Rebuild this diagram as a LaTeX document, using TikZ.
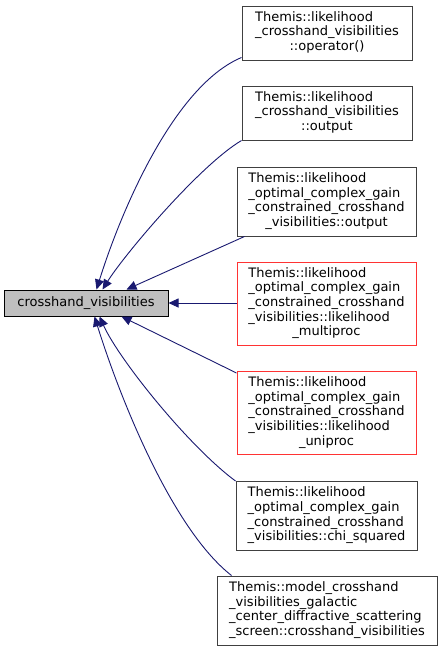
\documentclass[tikz,border=0pt]{standalone}
\usepackage{fontspec}
\setmainfont{DejaVu Sans}
\usetikzlibrary{arrows.meta,calc}
\definecolor{edgeblue}{HTML}{191970}
\definecolor{boxgray}{HTML}{404040}
\definecolor{boxred}{HTML}{FF3333}
\definecolor{parentfill}{HTML}{BFBFBF}
\newcommand{\ml}[2]{\begin{tabular}{@{}l@{}}#1\\\multicolumn{1}{@{}c@{}}{#2}\end{tabular}}
\tikzset{
  box/.style={draw=boxgray, line width=1pt, fill=white, inner sep=0pt, align=left, font=\fontsize{13}{14.7}\selectfont},
  redbox/.style={box, draw=boxred},
  edge/.style={draw=edgeblue, line width=0.9pt, -{Triangle[length=10pt,width=9pt]}}
}
\begin{document}
\begin{tikzpicture}[x=1pt,y=-1pt]
\useasboundingbox (0,0) rectangle (443,651);
\node[box, fill=parentfill, draw=black, minimum width=164, minimum height=26] (p) at (86,303) {crosshand\_visibilities};
\node[box, minimum width=170, minimum height=54] (b1) at (327,33)
  {\ml{Themis::likelihood\\\_crosshand\_visibilities}{::operator()}};
\node[box, minimum width=170, minimum height=54] (b2) at (327,113)
  {\ml{Themis::likelihood\\\_crosshand\_visibilities}{::output}};
\node[box, minimum width=179, minimum height=69] (b3) at (326.5,201.5)
  {\ml{Themis::likelihood\\\_optimal\_complex\_gain\\\_constrained\_crosshand}{\_visibilities::output}};
\node[redbox, minimum width=179, minimum height=83] (b4) at (326.5,303.5)
  {\ml{Themis::likelihood\\\_optimal\_complex\_gain\\\_constrained\_crosshand\\\_visibilities::likelihood}{\_multiproc}};
\node[redbox, minimum width=179, minimum height=83] (b5) at (326.5,413)
  {\ml{Themis::likelihood\\\_optimal\_complex\_gain\\\_constrained\_crosshand\\\_visibilities::likelihood}{\_uniproc}};
\node[box, minimum width=181, minimum height=69] (b6) at (326.5,516)
  {\ml{Themis::likelihood\\\_optimal\_complex\_gain\\\_constrained\_crosshand}{\_visibilities::chi\_squared}};
\node[box, minimum width=220, minimum height=69] (b7) at (327,610.5)
  {\ml{Themis::model\_crosshand\\\_visibilities\_galactic\\\_center\_diffractive\_scattering}{\_screen::crosshand\_visibilities}};
\draw[edge] ($(b1.south west)+(0,-3)$) .. controls +(-67,28) and +(25,-80) .. ($(p.north west)+(93,0)$);
\draw[edge] (b2.south west) .. controls +(-42,25) and +(22,-35) .. ($(p.north west)+(99,0)$);
\draw[edge] ($(b3.south west)+(8,0)$) -- ($(p.north west)+(123,0)$);
\draw[edge] (b4.west |- p.east) -- (p.east);
\draw[edge] ($(b5.north west)+(0,2)$) -- ($(p.south west)+(118,0)$);
\draw[edge] (b6.north west) .. controls +(-46,-34) and +(20,44) .. ($(p.south west)+(96,0)$);
\draw[edge] ($(b7.north west)+(15,0)$) .. controls +(-60,-47) and +(25,80) .. ($(p.south west)+(91,0)$);
\end{tikzpicture}
\end{document}
